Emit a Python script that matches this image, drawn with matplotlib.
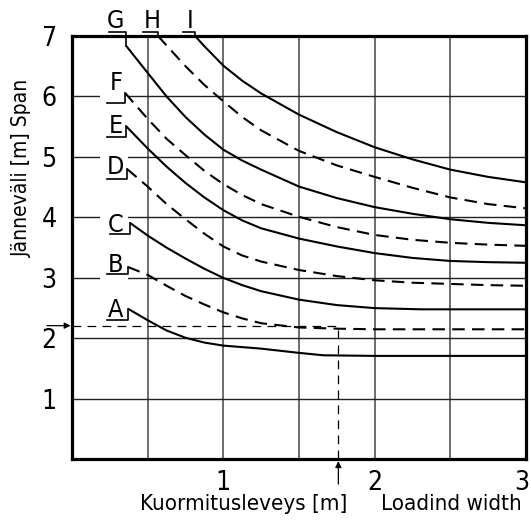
import matplotlib.pyplot as plt
from matplotlib.patches import Rectangle
from matplotlib.transforms import ScaledTranslation

plt.rcParams['font.family'] = ['DejaVu Sans']
plt.rcParams['font.stretch'] = 'condensed'

# luettu kuvasta: kuormitusleveys [m] -> jänneväli [m]
a_x = [0.370, 0.5, 0.625, 0.75, 0.875, 1.0, 1.25, 1.5, 1.66, 2.0, 2.5, 3.0]
a_y = [2.49, 2.30, 2.13, 2.01, 1.93, 1.88, 1.83, 1.76, 1.72, 1.71, 1.71, 1.71]
b_x = [0.370, 0.5, 0.625, 0.75, 0.875, 1.0, 1.125, 1.25, 1.5, 1.75, 2.0, 2.5, 3.0]
b_y = [3.18, 3.05, 2.87, 2.70, 2.56, 2.43, 2.33, 2.25, 2.18, 2.16, 2.15, 2.15, 2.15]
c_x = [0.383, 0.5, 0.625, 0.75, 0.875, 1.0, 1.125, 1.25, 1.5, 1.75, 2.0, 2.31, 2.5, 3.0]
c_y = [3.91, 3.70, 3.50, 3.32, 3.15, 3.00, 2.88, 2.78, 2.64, 2.55, 2.50, 2.48, 2.48, 2.48]
d_x = [0.364, 0.5, 0.625, 0.75, 0.875, 1.0, 1.125, 1.25, 1.5, 1.75, 2.0, 2.25, 2.5, 2.75, 3.0]
d_y = [4.80, 4.51, 4.22, 3.97, 3.73, 3.52, 3.37, 3.27, 3.13, 3.03, 2.96, 2.92, 2.90, 2.88, 2.87]
e_x = [0.357, 0.5, 0.625, 0.75, 0.875, 1.0, 1.125, 1.25, 1.5, 1.75, 2.0, 2.25, 2.5, 2.75, 3.0]
e_y = [5.51, 5.14, 4.84, 4.57, 4.33, 4.12, 3.95, 3.82, 3.65, 3.52, 3.41, 3.33, 3.28, 3.26, 3.25]
f_x = [0.350, 0.5, 0.625, 0.75, 0.875, 1.0, 1.125, 1.25, 1.5, 1.75, 2.0, 2.25, 2.5, 2.75, 3.0]
f_y = [6.06, 5.63, 5.30, 5.03, 4.77, 4.55, 4.37, 4.22, 4.01, 3.84, 3.71, 3.63, 3.58, 3.55, 3.53]
g_x = [0.357, 0.5, 0.625, 0.75, 0.875, 1.0, 1.125, 1.25, 1.5, 1.75, 2.0, 2.25, 2.5, 2.75, 3.0]
g_y = [6.84, 6.39, 6.00, 5.66, 5.37, 5.12, 4.94, 4.79, 4.51, 4.32, 4.17, 4.06, 3.97, 3.91, 3.87]
h_x = [0.568, 0.75, 0.875, 1.0, 1.125, 1.25, 1.5, 1.75, 2.0, 2.25, 2.5, 2.75, 3.0]
h_y = [7.00, 6.50, 6.19, 5.92, 5.66, 5.44, 5.10, 4.86, 4.67, 4.49, 4.33, 4.22, 4.15]
i_x = [0.813, 0.875, 1.0, 1.125, 1.25, 1.5, 1.75, 2.0, 2.25, 2.5, 2.75, 3.0]
i_y = [7.00, 6.83, 6.51, 6.26, 6.05, 5.70, 5.41, 5.16, 4.96, 4.79, 4.67, 4.58]

letters = ['A', 'B', 'C', 'D', 'E', 'F', 'G', 'H', 'I']
curves_x = [a_x, b_x, c_x, d_x, e_x, f_x, g_x, h_x, i_x]
curves_y = [a_y, b_y, c_y, d_y, e_y, f_y, g_y, h_y, i_y]

# esimerkki: 1.76 m kuormitusleveys -> 2.21 m jänneväli
ref_x = 1.76
ref_y = 2.21

# kirjaimen paikka ja alleviivaus
ul_x0 = [0.231, 0.231, 0.251, 0.231, 0.231, 0.231, 0.244, 0.469, 0.733]
ul_y = [2.31, 3.07, 3.73, 4.64, 5.33, 5.90, 7.07, 7.07, 7.07]
txt_x = [0.29, 0.29, 0.29, 0.29, 0.29, 0.29, 0.285, 0.529, 0.780]
txt_y = [2.35, 3.10, 3.76, 4.72, 5.40, 6.10, 7.14, 7.14, 7.14]
dashed = [False, True, False, True, False, True, False, True, False]

fig = plt.figure(figsize=(5.31, 5.23), dpi=100)
ax = fig.add_axes([72 / 531, 1 - 459.3 / 523, 454 / 531, 423.3 / 523])
ax.set_xlim(0, 3)
ax.set_ylim(0, 7)

ax.set_xticks([1, 2, 3])
ax.set_xticks([0.5, 1.5, 2.5], minor=True)
ax.set_yticks(range(1, 8))
ax.tick_params(which='both', length=0, labelsize=19)
ax.tick_params(axis='x', pad=8)
ax.tick_params(axis='y', pad=11)
# viimeinen x-luku hieman vasemmalle, ettei leikkaudu
lbl3 = ax.get_xticklabels()[-1]
lbl3.set_transform(lbl3.get_transform() + ScaledTranslation(-4 / 100, 0, fig.dpi_scale_trans))
ax.set_axisbelow(True)
ax.grid(which='both', axis='x', color='#444444', lw=1.1)
ax.grid(which='major', axis='y', color='#222222', lw=1.0)
for s in ax.spines.values():
    s.set_linewidth(2.3)

for i, let in enumerate(letters):
    xs = curves_x[i]
    ys = curves_y[i]
    ls = (0, (6, 3.5)) if dashed[i] else '-'
    ax.plot(xs, ys, color='black', lw=1.5, ls=ls, zorder=3,
            solid_capstyle='butt', solid_joinstyle='round', clip_on=False)
    # valkoinen tausta kirjaimen taakse (katkaisee ruudukon)
    if 0 < i < 6:
        ax.add_patch(Rectangle((0.185, ul_y[i] - 0.1), 0.185, 0.48,
                               facecolor='white', edgecolor='none', zorder=1.5))
    ax.plot([ul_x0[i], xs[0], xs[0]], [ul_y[i], ul_y[i], ys[0]],
            color='black', lw=1.2, zorder=3, clip_on=False)
    ax.text(txt_x[i], txt_y[i], let, ha='center', va='baseline',
            fontsize=18, zorder=4, clip_on=False)

# lukuesimerkki katkoviivalla
ax.plot([0, ref_x, ref_x], [ref_y, ref_y, 0], color='black', lw=0.9,
        ls=(0, (7, 5)), zorder=2.5)
ax.annotate('', xy=(0, ref_y), xytext=(-0.165, ref_y),
            arrowprops=dict(arrowstyle='-|>', color='black', lw=0.9,
                            mutation_scale=9, shrinkA=0, shrinkB=1),
            annotation_clip=False)
ax.annotate('', xy=(ref_x, -0.03), xytext=(ref_x, -0.41),
            arrowprops=dict(arrowstyle='-|>', color='black', lw=0.9,
                            mutation_scale=9, shrinkA=0, shrinkB=0),
            annotation_clip=False)

fig.text(22 / 531, 1 - 168 / 523, 'Jänneväli [m] Span', rotation=90,
         ha='center', va='center', fontsize=15)
fig.text(140 / 531, 1 - 510 / 523, 'Kuormitusleveys [m]', ha='left',
         va='baseline', fontsize=16)
fig.text(522 / 531, 1 - 510 / 523, 'Loadind width', ha='right',
         va='baseline', fontsize=16)

fig.savefig('out.png', dpi=100)
plt.close(fig)
